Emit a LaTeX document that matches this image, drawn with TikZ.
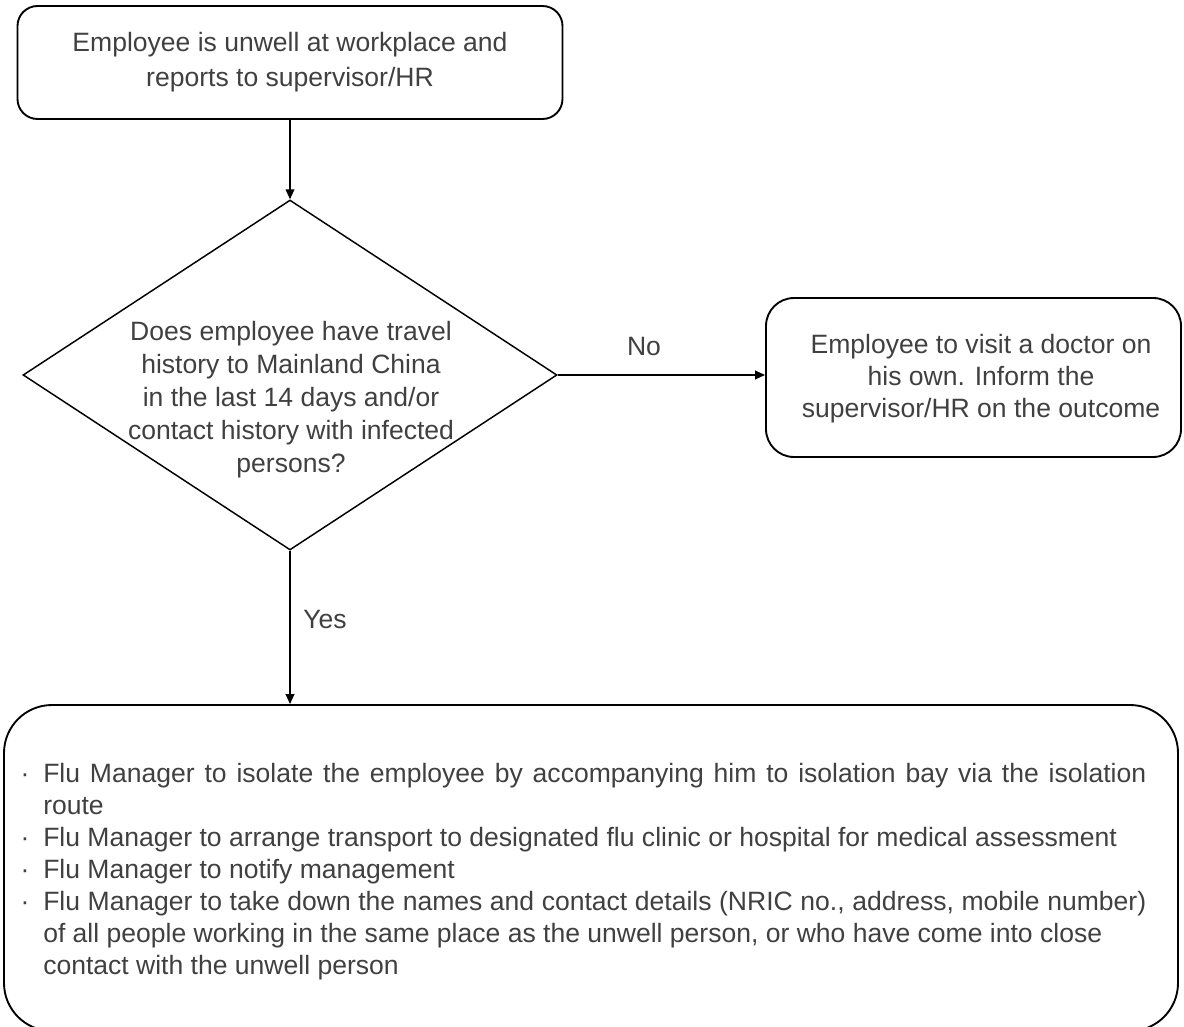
\documentclass[tikz,border=0pt]{standalone}
\usepackage{fontspec}
\setmainfont{Liberation Sans}
\usetikzlibrary{shapes.geometric,arrows.meta}
\definecolor{txtgray}{HTML}{404040}
\newcommand\bulmark{\noindent\hangindent=15pt\hangafter=1\makebox[15pt][l]{\hspace{-2pt}·}}
\tikzset{
  box/.style={draw=black, line width=1.4pt, inner sep=0pt, fill=white},
  txt/.style={text=txtgray, align=center, inner sep=0pt},
  lbl/.style={text=txtgray, inner sep=0pt, font=\fontsize{19.9}{24}\selectfont},
  arr/.style={-{Triangle[length=7.5pt,width=6.5pt]}, line width=1.3pt},
}
\begin{document}
\begin{tikzpicture}[x=0.75pt,y=-0.75pt]
\useasboundingbox (0,0) rectangle (1184,1027);
\fill[white] (0,0) rectangle (1184,1027);

\node[box, txt, rounded corners=15pt, minimum width={545*0.75pt}, minimum height={113*0.75pt},
      font=\fontsize{19.9}{26.25}\selectfont] (top) at (290,62.5)
  {Employee is unwell at workplace and\\reports to supervisor/HR};

\node[draw=black, line width=1.1pt, diamond, inner sep=0pt,
      minimum width={534*0.75pt}, minimum height={350*0.75pt}] (dia) at (290,375) {};
\node[txt, anchor=base, font=\fontsize{19.9}{24.75}\selectfont] (dtext) at (291,472)
  {Does employee have travel\\history to Mainland China\\in the last 14 days and/or\\contact history with infected\\persons?};

\node[box, rounded corners=21pt, minimum width={415*0.75pt}, minimum height={159*0.75pt}] (right) at (973.5,377.5) {};
\node[txt, font=\fontsize{19.9}{24}\selectfont] (rtext) at (981,379)
  {Employee to visit a doctor on\\his own. Inform the\\supervisor/HR on the outcome};

\node[box, rounded corners=36pt, minimum width={1174*0.75pt}, minimum height={326*0.75pt}] (bot) at (591,868) {};
\node[anchor=base west, text width={1123*0.75pt}, align=justify, inner sep=0pt, text=txtgray,
      font=\fontsize{19.9}{24}\selectfont] (list) at (23,782)
  {\bulmark Flu Manager to isolate the employee by accompanying him to isolation bay via the isolation\linebreak route\par
   \bulmark Flu Manager to arrange transport to designated flu clinic or hospital for medical assessment\par
   \bulmark Flu Manager to notify management\par
   \bulmark Flu Manager to take down the names and contact details (NRIC no., address, mobile number)\linebreak of all people working in the same place as the unwell person, or who have come into close\newline contact with the unwell person\par};

\draw[arr] (top.south) -- (dia.north);
\draw[arr] (dia.east) -- (dia.east -| right.west);
\draw[arr] (dia.south) -- (dia.south |- bot.north);
\node[lbl, anchor=base] (no) at (644,355) {No};
\node[lbl, anchor=base west] (yes) at (303,628) {Yes};
\end{tikzpicture}
\end{document}
